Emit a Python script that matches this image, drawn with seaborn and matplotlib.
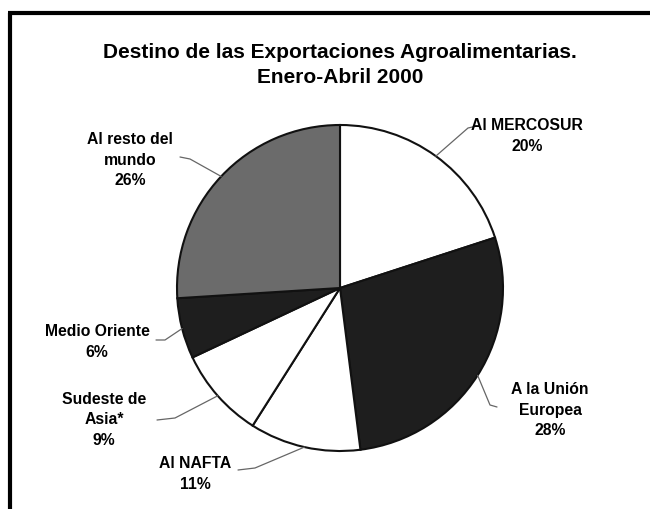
import numpy as np
import matplotlib
matplotlib.use("Agg")
import matplotlib.pyplot as plt
import seaborn as sns

# Data
categories = ["Al MERCOSUR", "A la Unión\nEuropea", "Al NAFTA", "Sudeste de\nAsia*", "Medio Oriente", "Al resto del\nmundo"]
shares = [20, 28, 11, 9, 6, 26]
colors = ["#ffffff", "#1e1e1e", "#ffffff", "#ffffff", "#1e1e1e", "#6b6b6b"]
title_lines = ["Destino de las Exportaciones Agroalimentarias.", "Enero-Abril 2000"]

sns.set_theme(style="white")
plt.rcParams['font.family'] = ['Liberation Sans', 'DejaVu Sans']
plt.rcParams['text.color'] = 'black'

W, H = 650, 509
fig = plt.figure(figsize=(W / 100, H / 100), dpi=100)
ax = fig.add_axes([0, 0, 1, 1])

def py(y):
    return H - y

cx, cy, R = 340, py(288), 163
wedges, _ = ax.pie(shares, colors=colors, startangle=90, counterclock=False,
                   center=(cx, cy), radius=R, frame=True,
                   wedgeprops=dict(edgecolor="#111111", linewidth=1.5))
ax.set_xlim(0, W)
ax.set_ylim(0, H)
ax.set_aspect('equal')
ax.axis('off')

# frame (top and left edges)
ax.plot([8, W], [py(13), py(13)], color="black", lw=3, solid_capstyle='butt')
ax.plot([10, 10], [py(13), 0], color="black", lw=3, solid_capstyle='butt')

# title
ax.text(340, py(52), title_lines[0], ha='center', va='center', fontsize=15, fontweight='bold', color='black')
ax.text(340, py(77), title_lines[1], ha='center', va='center', fontsize=15, fontweight='bold', color='black')

# label layout: text centre, leader knee, leader end (pixel coords)
text_pos = [(527, 136), (550, 410), (195, 474), (104, 420), (97, 342), (130, 160)]
leader_knee = [(468, 128), (490, 405), (255, 468), (175, 418), (165, 340), (190, 159)]
leader_end = [(477, 126), (497, 407), (238, 470), (157, 420), (156, 340), (180, 157)]

for w, lab, s, tp, kn, le in zip(wedges, categories, shares, text_pos, leader_knee, leader_end):
    ang = np.deg2rad((w.theta1 + w.theta2) / 2)
    x0 = cx + R * np.cos(ang)
    y0 = cy + R * np.sin(ang)
    ax.plot([x0, kn[0], le[0]], [y0, py(kn[1]), py(le[1])], color="#666666", lw=0.9)
    ax.text(tp[0], py(tp[1]), f"{lab}\n{s}%", ha='center', va='center',
            fontsize=11.3, fontweight='bold', linespacing=1.45, color="black")

fig.savefig("out.png", dpi=100)
